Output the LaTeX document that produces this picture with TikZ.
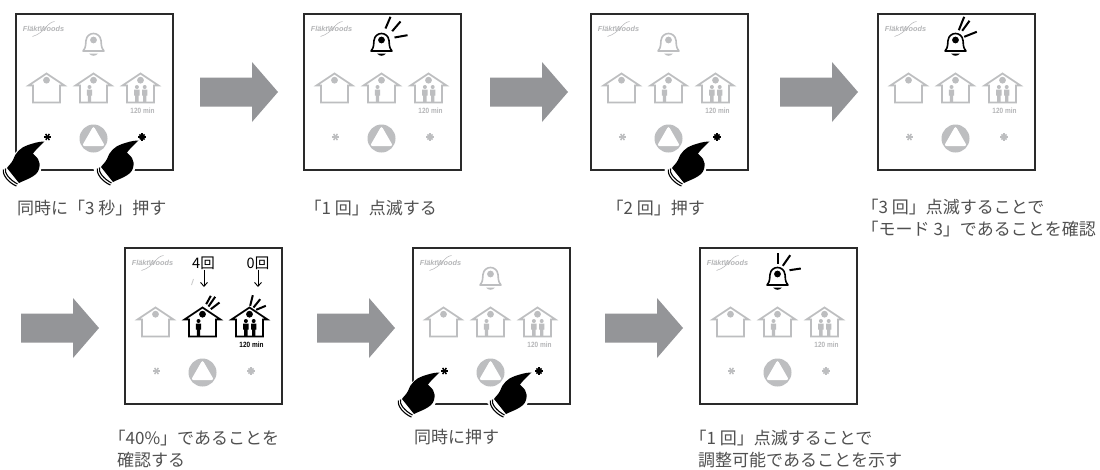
\documentclass[tikz,border=0pt]{standalone}
\usepackage{fontspec}
\usetikzlibrary{calc,arrows.meta}
\setmainfont{Liberation Sans}
\newfontfamily\cjk{Noto Sans CJK JP}
\definecolor{icongray}{HTML}{BDBEC0}
\definecolor{arrowgray}{HTML}{949598}
\definecolor{framedark}{HTML}{2A2A2A}
\definecolor{textdark}{HTML}{505050}
\definecolor{logogray}{HTML}{B4B5B7}
\tikzset{
  panelbox/.style={draw=framedark,line width=2pt,minimum width=157pt,minimum height=156pt,anchor=north west,inner sep=0pt,outer sep=0pt},
  caption/.style={anchor=north west,inner sep=0pt,align=left,text=textdark,font=\cjk\fontsize{17}{22}\selectfont},
  blockarrow/.style={fill=arrowgray,draw=none},
  iconline/.style={line width=1.7pt,line join=miter},
  ray/.style={draw=black,line width=2pt},
}
\newcommand\hangq{\hspace*{-8.5pt}}
\newcommand\personicon[2]{%
  \fill[#2] (#1,73.5) circle (2);
  \fill[#2] (#1-2.7,76) -- (#1+2.7,76) -- (#1+2.7,82) -- (#1+1.7,82) -- (#1+1.7,89) -- (#1-1.7,89) -- (#1-1.7,82) -- (#1-2.7,82) -- cycle;}
\newcommand\houseicon[3]{%
  \begin{scope}[shift={(#1,0)}]
    \draw[draw=#3,iconline] (-13.5,89) -- (-13.5,72) -- (-18,72) -- (0,60) -- (18,72) -- (13.5,72) -- (13.5,89) -- cycle;
    \fill[#3] (0,66.7) circle (3.4);
    \ifcase#2\relax
    \or \personicon{-4}{#3}%
    \or \personicon{-3.6}{#3}\personicon{4.2}{#3}%
    \fi
  \end{scope}}
\newcommand\bellicon[1]{%
  \begin{scope}[shift={(78,0)}]
    \draw[draw=#1,line width=1.6pt,line join=round]
      (-10.5,37.5) .. controls (-7,34) and (-8,29) .. (-7.5,27) .. controls (-7,22) and (-3,20) .. (0,20)
      .. controls (3,20) and (7,22) .. (7.5,27) .. controls (8,29) and (7,34) .. (10.5,37.5) -- cycle;
    \fill[#1] (0,26.5) circle (3.4);
    \fill[#1] (-4.5,40) .. controls (-2,43) and (2,43) .. (4.5,40) -- cycle;
  \end{scope}}
\newcommand\staricon[4]{%
  \foreach \a in {1,...,#3} {\draw[#2,line width=1.5pt] ($(#1,#4)+({180/#3*\a}:3.6)$) -- ($(#1,#4)+({180/#3*\a+180}:3.6)$);}}
\newcommand\panelbase[6]{%
  \node[panelbox] (#1) at (#2,#3) {};
  \begin{scope}[shift={(#2,#3)}]
    \node[inner sep=0pt,text=logogray,font=\bfseries\itshape\fontsize{7.3}{8}\selectfont] (#1logo) at (28,15.3) {FläktWoods};
    \draw[logogray,line width=.5pt] (39,8) .. controls (31,9) and (30,19) .. (17,23);
    \fill[icongray] (78,125) circle (14);
    \fill[white,rounded corners=2.4pt] (78,112.5) -- (89.5,132.5) -- (66.5,132.5) -- cycle;
    \staricon{32}{#4}{3}{123.5}
    \staricon{126.5}{#5}{4}{123.5}
    #6
  \end{scope}}
\newcommand\grayminutes[1]{%
  \node[inner sep=0pt,text=logogray,font=\bfseries\fontsize{7.6}{8}\selectfont,xscale=.85,transform shape] (#1min) at (127,97.3) {120 min};}
\newcommand\grayhouses[1]{\houseicon{31}{0}{icongray}\houseicon{78}{1}{icongray}\houseicon{125}{2}{icongray}\grayminutes{#1}}
\newcommand\belrays[1]{\foreach \ax/\ay/\bx/\by in {#1} {\draw[ray] (78+\ax,20+\ay) -- (78+\bx,20+\by);}}
\newcommand\handicon[2]{%
  \begin{scope}[shift={(#1,#2)}]
    \path[draw=white,line width=7pt,line join=round,fill=white] (0,0) -- (-15,4) -- (-35,22) -- (-40,28) -- (-25,44) -- (-6,30) -- cycle;
    \fill[black,line join=round] (1.5,-.5) .. controls (-5,-.5) and (-10,1.5) .. (-15,3)
      .. controls (-22,5) and (-28,11) .. (-30,18) .. controls (-32,22) and (-35,24) .. (-36,26)
      -- (-24,41) .. controls (-20,39) and (-17,38) .. (-14,36.5)
      .. controls (-8,33.5) and (-5,31) .. (-4,27) .. controls (-3,23) and (-3,20) .. (-5,17)
      .. controls (-7,14) and (-9,13) .. (-10,11.5) .. controls (-7,7.5) and (-3,4) .. (1.5,-.5) -- cycle;
    \draw[black,line width=1.1pt] (-37.5,26.5) .. controls (-39,31) and (-33,38) .. (-25.5,42);
    \draw[black,line width=1.1pt] (-39.5,27.5) .. controls (-41,33) and (-34,41) .. (-26.5,44);
  \end{scope}}
\newcommand\bigarrow[2]{%
  \fill[blockarrow] (#1,#2-14.5) -- (#1+52,#2-14.5) -- (#1+52,#2-30) -- (#1+78,#2) -- (#1+52,#2+30) -- (#1+52,#2+14.5) -- (#1,#2+14.5) -- cycle;}
\begin{document}
\begin{tikzpicture}[x=1pt,y=-1pt]
\useasboundingbox (0,0) rectangle (1100,469);
\fill[white] (0,0) rectangle (1100,469);

% row one
\panelbase{p1}{15.5}{13.5}{black}{black}{\bellicon{icongray}\grayhouses{p1}}
\handicon{43}{142}\handicon{137}{141}
\bigarrow{200}{92}
\panelbase{p2}{303.5}{13.5}{icongray}{icongray}{\bellicon{black}\belrays{9/-16.7/4/-5,19/-12/10.7/-2.3,26/1.7/13/4}\grayhouses{p2}}
\bigarrow{490}{92}
\panelbase{p3}{590.5}{13.5}{icongray}{black}{\bellicon{icongray}\grayhouses{p3}}
\handicon{708}{142}
\bigarrow{780}{92}
\panelbase{p4}{877.5}{13.5}{icongray}{icongray}{\bellicon{black}\belrays{8.7/-16.7/3.3/-3.3,14/-12.7/6.7/-2.7,21.3/-1.7/8.7/3.3}\grayhouses{p4}}

% row two
\bigarrow{21}{328}
\panelbase{p5}{124.5}{247.5}{icongray}{icongray}{%
  \houseicon{31}{0}{icongray}\houseicon{78}{1}{black}\houseicon{125}{2}{black}
  \node[inner sep=0pt,font=\bfseries\fontsize{7.6}{8}\selectfont,xscale=.85,transform shape] (p5min) at (127,97.3) {120 min};
  \foreach \ax/\ay/\bx/\by in {8.3/-11.7/3.7/-3.3,12.7/-10.7/6/-1,17/-5/8.3/1.7} {\draw[ray] (78+\ax,60+\ay) -- (78+\bx,60+\by);}
  \foreach \ax/\ay/\bx/\by in {3.3/-12.3/0.7/-1.7,10.7/-8.3/4/0,16.3/-1.7/6.7/2.3} {\draw[ray] (125+\ax,60+\ay) -- (125+\bx,60+\by);}
}
\node[inner sep=0pt,font=\cjk\fontsize{14.5}{16}\selectfont] (n4) at (203.5,263) {4回};
\node[inner sep=0pt,font=\cjk\fontsize{14.5}{16}\selectfont] (n0) at (258,263) {0回};
\coordinate (n4e) at (204,287);\coordinate (n0e) at (258,287);
\draw[black,line width=.9pt,-{Straight Barb[length=4pt,width=7pt]}] (n4.south -| n4e) -- (n4e);
\draw[black,line width=.9pt,-{Straight Barb[length=4pt,width=7pt]}] (n0.south -| n0e) -- (n0e);
\draw[black!20,line width=.8pt] (191.5,285) -- (193.5,279);
\bigarrow{317}{328}
\panelbase{p6}{412.5}{247.5}{black}{black}{\bellicon{icongray}\grayhouses{p6}}
\handicon{438}{373}\handicon{530}{373}
\bigarrow{605}{328}
\panelbase{p7}{699.5}{247.5}{icongray}{icongray}{\bellicon{black}\belrays{0/-14.3/0/-3.3,12.7/-12.3/5.3/-1.7,23.3/1/12/2.7}\grayhouses{p7}}

% captions
\node[caption] (c1) at (17,200) {同時に「3 秒」押す};
\node[caption] (c2) at (313,200) {\hangq「1 回」点滅する};
\node[caption] (c3) at (615,200) {\hangq「2 回」押す};
\node[caption] (c4) at (870,199) {\hangq「3 回」点滅することで\\\hangq「モード 3」であることを確認};
\node[caption] (c5) at (117,430) {\hangq「40\%」であることを\\確認する};
\node[caption] (c6) at (414,429) {同時に押す};
\node[caption] (c7) at (698,430) {\hangq「1 回」点滅することで\\調整可能であることを示す};
\end{tikzpicture}
\end{document}
